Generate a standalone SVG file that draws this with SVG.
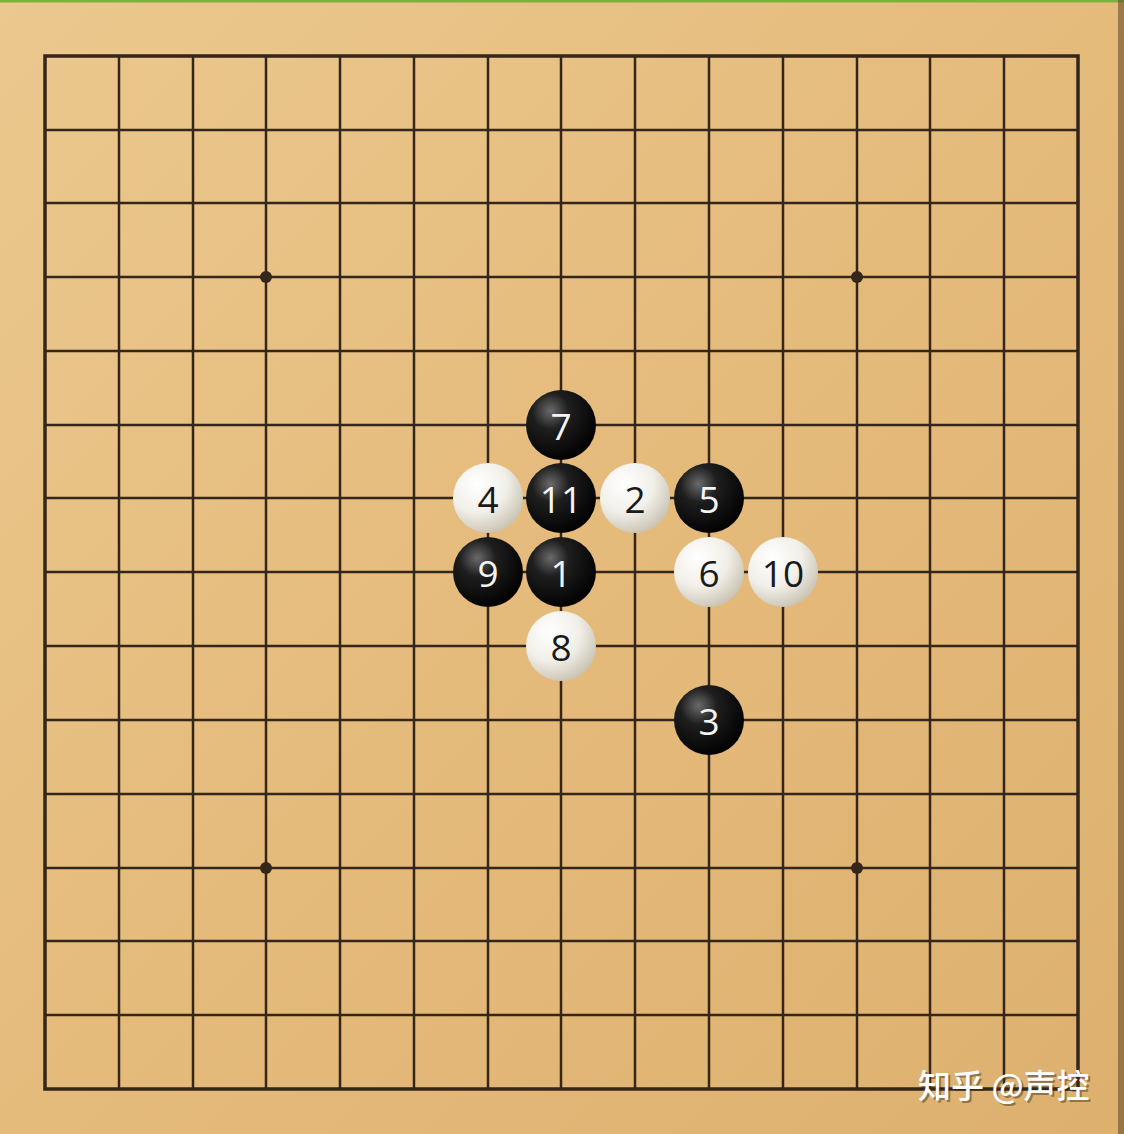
<svg xmlns="http://www.w3.org/2000/svg" width="1124" height="1134" viewBox="0 0 1124 1134">
<defs>
<linearGradient id="wood" x1="0" y1="0" x2="1" y2="1">
<stop offset="0" stop-color="#ebc88e"/>
<stop offset="0.5" stop-color="#e5bb7c"/>
<stop offset="1" stop-color="#ddb06e"/>
</linearGradient>
<radialGradient id="blk" cx="0.35" cy="0.3" r="0.75">
<stop offset="0" stop-color="#6a6a6a"/>
<stop offset="0.35" stop-color="#1e1e1e"/>
<stop offset="1" stop-color="#000"/>
</radialGradient>
<radialGradient id="wht" cx="0.35" cy="0.3" r="0.75">
<stop offset="0" stop-color="#ffffff"/>
<stop offset="0.55" stop-color="#f1efe8"/>
<stop offset="1" stop-color="#c9c2b2"/>
</radialGradient>
<style>
.g{stroke:#35261a;stroke-width:2.5;fill:none}
.b{stroke:#35261a;stroke-width:3.5;fill:none}
.n{font-family:"Open Sans","Noto Sans",sans-serif;font-size:37px;text-anchor:middle;dominant-baseline:central}
.nb{fill:#f4f4f4}
.nw{fill:#1a1a1a}
.wm{font-family:"Noto Sans CJK SC",sans-serif;font-size:33px;fill:#fff;font-weight:500}
</style>
</defs>
<rect width="1124" height="1134" fill="url(#wood)"/>
<rect x="0" y="0" width="1124" height="2.5" fill="#7cb23c"/>
<rect x="1118" y="0" width="6" height="1134" fill="#6b4e2a" opacity="0.6"/>
<g id="grid">
<path class="g" d="M45 130H1078M45 203H1078M45 277H1078M45 351H1078M45 425H1078M45 498H1078M45 572H1078M45 646H1078M45 720H1078M45 794H1078M45 868H1078M45 941H1078M45 1015H1078"/>
<path class="g" d="M119 56V1089M193 56V1089M266 56V1089M340 56V1089M414 56V1089M488 56V1089M561 56V1089M635 56V1089M709 56V1089M783 56V1089M857 56V1089M930 56V1089M1004 56V1089"/>
<rect class="b" x="45" y="56" width="1033" height="1033"/>
<circle cx="266" cy="277" r="6" fill="#35261a"/>
<circle cx="857" cy="277" r="6" fill="#35261a"/>
<circle cx="266" cy="868" r="6" fill="#35261a"/>
<circle cx="857" cy="868" r="6" fill="#35261a"/>
</g>
<g id="connectors"></g>
<g id="s1"><circle cx="561" cy="572" r="35" fill="url(#blk)"/><text class="n nb" x="561" y="572">1</text></g>
<g id="s2"><circle cx="635" cy="498" r="35" fill="url(#wht)"/><text class="n nw" x="635" y="498">2</text></g>
<g id="s3"><circle cx="709" cy="720" r="35" fill="url(#blk)"/><text class="n nb" x="709" y="720">3</text></g>
<g id="s4"><circle cx="488" cy="498" r="35" fill="url(#wht)"/><text class="n nw" x="488" y="498">4</text></g>
<g id="s5"><circle cx="709" cy="498" r="35" fill="url(#blk)"/><text class="n nb" x="709" y="498">5</text></g>
<g id="s6"><circle cx="709" cy="572" r="35" fill="url(#wht)"/><text class="n nw" x="709" y="572">6</text></g>
<g id="s7"><circle cx="561" cy="425" r="35" fill="url(#blk)"/><text class="n nb" x="561" y="425">7</text></g>
<g id="s8"><circle cx="561" cy="646" r="35" fill="url(#wht)"/><text class="n nw" x="561" y="646">8</text></g>
<g id="s9"><circle cx="488" cy="572" r="35" fill="url(#blk)"/><text class="n nb" x="488" y="572">9</text></g>
<g id="s10"><circle cx="783" cy="572" r="35" fill="url(#wht)"/><text class="n nw" x="783" y="572">10</text></g>
<g id="s11"><circle cx="561" cy="498" r="35" fill="url(#blk)"/><text class="n nb" x="561" y="498">11</text></g>
<g id="watermark">
<text class="wm" x="918" y="1098" transform="translate(2,2)" style="fill:#3a2a18;opacity:0.45">知乎 @声控</text>
<text class="wm" x="918" y="1098">知乎 @声控</text>
</g>
</svg>
